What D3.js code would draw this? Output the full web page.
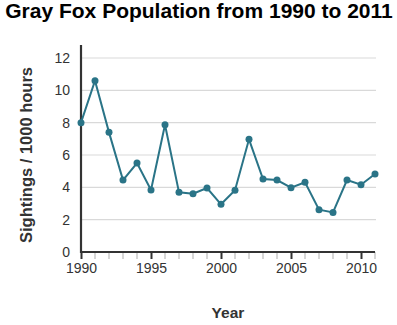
<!DOCTYPE html>
<html><head><meta charset="utf-8">
<script src="https://cdn.jsdelivr.net/npm/d3@7"></script>
<style>body{margin:0;background:#fff}svg{display:block}</style>
</head><body>
<svg id="c" width="397" height="325"></svg>
<script>
const years = [1990,1991,1992,1993,1994,1995,1996,1997,1998,1999,2000,2001,2002,2003,2004,2005,2006,2007,2008,2009,2010,2011];
const sightings = [8.0,10.6,7.4,4.45,5.5,3.83,7.87,3.69,3.61,3.96,2.95,3.82,6.97,4.51,4.45,3.98,4.31,2.62,2.45,4.45,4.16,4.82];
const yTicks = [0,2,4,6,8,10,12];
const xMajorTicks = [1990,1995,2000,2005,2010];
const title = "Gray Fox Population from 1990 to 2011";
const xTitle = "Year";
const yTitle = "Sightings / 1000 hours";

const svg = d3.select("#c");
const L = 81, R = 375, B = 252;
const x = d3.scaleLinear().domain([1990, 2011]).range([L, R]);
const y = d3.scaleLinear().domain([0, 12]).range([B, 58]);
const font = "'Liberation Sans', Arial, sans-serif";
const col = "#2a7487";

svg.append("text").attr("x", 199).attr("y", 17.5).attr("text-anchor", "middle")
  .attr("font-family", font).attr("font-weight", "bold").attr("font-size", 21)
  .attr("fill", "#000").text(title);

// gridlines
svg.append("g").selectAll("line").data(yTicks.filter(d => d > 0)).join("line")
  .attr("x1", L).attr("x2", R + 1).attr("y1", d => y(d)).attr("y2", d => y(d))
  .attr("stroke", "#d9d9d9").attr("stroke-width", 1.2);

// minor x ticks
svg.append("g").selectAll("line").data(years.filter(d => !xMajorTicks.includes(d))).join("line")
  .attr("x1", d => x(d)).attr("x2", d => x(d)).attr("y1", B).attr("y2", B + 7)
  .attr("stroke", "#d6d6d6").attr("stroke-width", 2);

// x axis
const xAxis = svg.append("g").attr("transform", `translate(0,${B})`)
  .call(d3.axisBottom(x).tickValues(xMajorTicks).tickFormat(d3.format("d")).tickSize(7).tickPadding(4).tickSizeOuter(0));
xAxis.select(".domain").attr("stroke", "#333").attr("stroke-width", 2.2).attr("d", `M${L-1},0H${R}`);
xAxis.selectAll(".tick line").attr("stroke", "#333").attr("stroke-width", 2);
xAxis.selectAll("text").attr("font-family", font).attr("font-size", 14).attr("fill", "#333");

// y axis
const yAxis = svg.append("g").attr("transform", `translate(${L},0)`)
  .call(d3.axisLeft(y).tickValues(yTicks).tickSize(0).tickPadding(11));
yAxis.select(".domain").attr("stroke", "#333").attr("stroke-width", 2.2).attr("d", `M0,45V${B+1}`);
yAxis.selectAll("text").attr("font-family", font).attr("font-size", 14).attr("fill", "#333");

// line
svg.append("path").datum(years.map((d, i) => [d, sightings[i]]))
  .attr("fill", "none").attr("stroke", col).attr("stroke-width", 2)
  .attr("d", d3.line().x(d => x(d[0])).y(d => y(d[1])));
svg.append("g").selectAll("circle").data(years.map((d, i) => [d, sightings[i]])).join("circle")
  .attr("cx", d => x(d[0])).attr("cy", d => y(d[1])).attr("r", 3.5).attr("fill", col);

svg.append("text").attr("x", (L + R) / 2).attr("y", 318).attr("text-anchor", "middle")
  .attr("font-family", font).attr("font-weight", "bold").attr("font-size", 15.5)
  .attr("fill", "#333").text(xTitle);
svg.append("text").attr("transform", "translate(32,155) rotate(-90)").attr("text-anchor", "middle")
  .attr("font-family", font).attr("font-weight", "bold").attr("font-size", 16.5)
  .attr("fill", "#333").text(yTitle);
</script>
</body></html>
